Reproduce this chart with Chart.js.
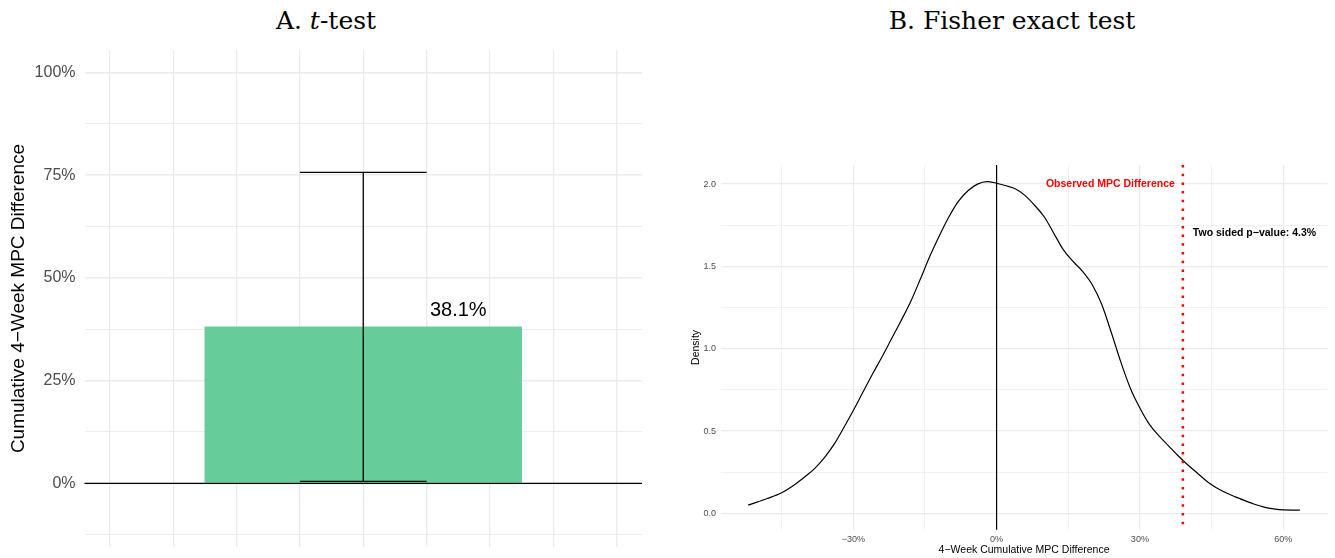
<!DOCTYPE html>
<html>
<head>
<meta charset="utf-8">
<script src="https://cdn.jsdelivr.net/npm/chart.js@4"></script>
<style>
html,body{margin:0;padding:0;background:#fff;width:1335px;height:558px;overflow:hidden;}
.panel{position:absolute;}
.title{position:absolute;font-family:"DejaVu Serif",serif;font-size:25px;line-height:25px;color:#000;white-space:nowrap;transform:translateX(-50%);}
</style>
</head>
<body>
<div class="title" style="left:326px;top:8px">A. <i>t</i>-test</div>
<div class="title" style="left:1012px;top:8px">B. Fisher exact test</div>
<div class="panel" style="left:0;top:40px;width:660px;height:518px"><canvas id="cA"></canvas></div>
<div class="panel" style="left:680px;top:140px;width:655px;height:418px"><canvas id="cB"></canvas></div>
<script>
// ---------- Panel A: t-test ----------
const barCategoryX = [1];
const barValues = [38.1];
const ciLower = [0.5];
const ciUpper = [75.7];
const barLabels = ['38.1%'];
const aYTicks = [-12.5, 0, 12.5, 25, 37.5, 50, 62.5, 75, 87.5, 100];
const aYTickLabels = ['', '0%', '', '25%', '', '50%', '', '75%', '', '100%'];
const aXGrid = [0, 0.25, 0.5, 0.75, 1, 1.25, 1.5, 1.75, 2];
const aYTitle = 'Cumulative 4\u2212Week MPC Difference';

// ---------- Panel B: Fisher exact test ----------
const densityX = [-52, -50, -48, -45, -42, -40, -38, -36, -34, -32, -30, -28, -26, -24, -22, -20, -18, -16, -14, -12, -10, -8, -6, -4, -2, 0,
  2, 4, 6, 8, 10, 12, 14, 16, 18, 20, 22, 24, 26, 28, 30, 32, 34, 36, 38, 40, 42, 44, 46, 48, 50, 52, 54, 56, 58, 60, 63.5];
const densityY = [0.05, 0.07, 0.09, 0.125, 0.18, 0.225, 0.275, 0.34, 0.42, 0.52, 0.625, 0.735, 0.845, 0.95, 1.06, 1.17, 1.285, 1.42, 1.56, 1.685, 1.8, 1.895, 1.96, 2.0, 2.015, 2.005,
  1.99, 1.97, 1.93, 1.87, 1.8, 1.7, 1.6, 1.53, 1.47, 1.39, 1.27, 1.1, 0.92, 0.76, 0.64, 0.54, 0.47, 0.41, 0.35, 0.295, 0.245, 0.195, 0.155, 0.125, 0.1, 0.077, 0.055, 0.038, 0.027, 0.021, 0.02];
const observedDiff = 39.0;
const observedLabel = 'Observed MPC Difference';
const observedLabelY = 2.0;
const pValueText = 'Two sided p\u2212value: 4.3%';
const pValueLabelY = 1.7;
const bXTicks = [-45, -30, -15, 0, 15, 30, 45, 60];
const bXTickLabels = ['', '\u221230%', '', '0%', '', '30%', '', '60%'];
const bYTicks = [0, 0.25, 0.5, 0.75, 1, 1.25, 1.5, 1.75, 2];
const bYTickLabels = ['0.0', '', '0.5', '', '1.0', '', '1.5', '', '2.0'];
const bXTitle = '4\u2212Week Cumulative MPC Difference';
const bYTitle = 'Density';

// ---------- styles ----------
const SANS = '"Liberation Sans", Arial, sans-serif';
Chart.defaults.font.family = SANS;
const barWidth = 1.25;     // in x-units
const capHalf = 0.25;      // error-bar cap half width
const labelDx = 0.375;     // label offset from bar centre (x-units)
const labelDyPx = 16;      // label offset above bar top (px)
const GRID = '#ebebeb';

function setTicks(values) {
  return function (s) { s.ticks = values.map(v => ({ value: v })); };
}
function fixWidth(w) {
  return function (s) { s.width = w; s.paddingTop = 0; s.paddingBottom = 0; };
}
function fixHeight(h) {
  return function (s) { s.height = h; s.paddingLeft = 0; s.paddingRight = 0; };
}

const panelAOverlay = {
  id: 'panelAOverlay',
  afterLayout(chart) {
    const x = chart.scales.x;
    const w = x.getPixelForValue(barCategoryX[0] + barWidth / 2) - x.getPixelForValue(barCategoryX[0] - barWidth / 2);
    chart.data.datasets.forEach(ds => { if (ds.type === 'bar') ds.barThickness = w; });
  },
  afterDatasetsDraw(chart) {
    const { ctx, chartArea, scales: { x, y } } = chart;
    ctx.save();
    const y0 = y.getPixelForValue(0);
    ctx.strokeStyle = '#000';
    ctx.lineWidth = 1.3;
    ctx.beginPath();
    ctx.moveTo(chartArea.left, y0);
    ctx.lineTo(chartArea.right, y0);
    ctx.stroke();
    ctx.font = '20px ' + SANS;
    ctx.fillStyle = '#000';
    ctx.textAlign = 'center';
    ctx.textBaseline = 'middle';
    barCategoryX.forEach((bx, i) => {
      ctx.fillText(barLabels[i], x.getPixelForValue(bx + labelDx), y.getPixelForValue(barValues[i]) - labelDyPx);
    });
    ctx.restore();
  }
};

const errStyle = { type: 'line', borderColor: '#000', borderWidth: 1.3, pointRadius: 0, fill: false, order: 1 };

new Chart(document.getElementById('cA'), {
  type: 'bar',
  data: {
    datasets: [
      Object.assign({ data: barCategoryX.flatMap((bx, i) => [{ x: bx, y: ciLower[i] }, { x: bx, y: ciUpper[i] }]) }, errStyle),
      Object.assign({ data: barCategoryX.flatMap((bx, i) => [{ x: bx - capHalf, y: ciUpper[i] }, { x: bx + capHalf, y: ciUpper[i] }]) }, errStyle),
      Object.assign({ data: barCategoryX.flatMap((bx, i) => [{ x: bx - capHalf, y: ciLower[i] }, { x: bx + capHalf, y: ciLower[i] }]) }, errStyle),
      { type: 'bar', data: barCategoryX.map((bx, i) => ({ x: bx, y: barValues[i] })), backgroundColor: '#66cc99', borderWidth: 0, order: 2 }
    ]
  },
  options: {
    responsive: true,
    maintainAspectRatio: false,
    animation: false,
    devicePixelRatio: 1,
    layout: { padding: { left: 0, right: 18, top: 10, bottom: 0 } },
    plugins: { legend: { display: false }, tooltip: { enabled: false } },
    scales: {
      x: {
        type: 'linear', min: -0.1, max: 2.1, offset: false,
        afterBuildTicks: setTicks(aXGrid),
        afterFit: fixHeight(11),
        grid: { offset: false, drawTicks: false, color: GRID, lineWidth: 1.3 },
        border: { display: false },
        ticks: { display: false }
      },
      y: {
        type: 'linear', min: -15.5, max: 105.5,
        afterBuildTicks: setTicks(aYTicks),
        afterFit: fixWidth(84.5),
        grid: {
          drawTicks: false, color: GRID,
          lineWidth: c => (c.tick && c.tick.value % 25 === 0) ? 1.6 : 0.9
        },
        border: { display: false },
        ticks: { padding: 9, color: '#4d4d4d', font: { size: 16 }, callback: (v, i) => aYTickLabels[i] },
        title: { display: true, text: aYTitle, color: '#000', font: { size: 19 }, padding: { top: 7, bottom: 0 } }
      }
    }
  },
  plugins: [panelAOverlay]
});

const panelBOverlay = {
  id: 'panelBOverlay',
  afterDatasetsDraw(chart) {
    const { ctx, chartArea: { top, bottom }, scales: { x, y } } = chart;
    ctx.save();
    const x0 = x.getPixelForValue(0);
    ctx.strokeStyle = '#000';
    ctx.lineWidth = 1.2;
    ctx.beginPath();
    ctx.moveTo(x0, top);
    ctx.lineTo(x0, bottom);
    ctx.stroke();
    const xo = x.getPixelForValue(observedDiff);
    ctx.strokeStyle = '#ff0000';
    ctx.lineWidth = 2.5;
    ctx.setLineDash([2.5, 6.2]);
    ctx.beginPath();
    ctx.moveTo(xo, top);
    ctx.lineTo(xo, bottom);
    ctx.stroke();
    ctx.setLineDash([]);
    ctx.font = 'bold 10.5px ' + SANS;
    ctx.textBaseline = 'middle';
    ctx.fillStyle = '#ff0000';
    ctx.textAlign = 'right';
    ctx.fillText(observedLabel, xo - 8, y.getPixelForValue(observedLabelY));
    ctx.fillStyle = '#000';
    ctx.textAlign = 'left';
    ctx.fillText(pValueText, xo + 10, y.getPixelForValue(pValueLabelY));
    ctx.restore();
  }
};

new Chart(document.getElementById('cB'), {
  type: 'line',
  data: {
    datasets: [{
      data: densityX.map((v, i) => ({ x: v, y: densityY[i] })),
      borderColor: '#000', borderWidth: 1.2, pointRadius: 0, fill: false,
      cubicInterpolationMode: 'monotone'
    }]
  },
  options: {
    responsive: true,
    maintainAspectRatio: false,
    animation: false,
    devicePixelRatio: 1,
    layout: { padding: { left: 0, right: 7.4, top: 25, bottom: 0 } },
    plugins: { legend: { display: false }, tooltip: { enabled: false } },
    scales: {
      x: {
        type: 'linear', min: -57.8, max: 69.3,
        afterBuildTicks: setTicks(bXTicks),
        afterFit: fixHeight(28.2),
        grid: { drawTicks: false, color: GRID, lineWidth: c => (c.tick && c.tick.value % 30 === 0) ? 1.2 : 0.7 },
        border: { display: false },
        ticks: { padding: 4, color: '#4d4d4d', font: { size: 9 }, maxRotation: 0, autoSkip: false, callback: (v, i) => bXTickLabels[i] },
        title: { display: true, text: bXTitle, color: '#000', font: { size: 10.5 }, padding: { top: 0, bottom: 1.7 } }
      },
      y: {
        type: 'linear', min: -0.1, max: 2.116,
        afterBuildTicks: setTicks(bYTicks),
        afterFit: fixWidth(40.5),
        grid: { drawTicks: false, color: GRID, lineWidth: c => (c.tick && Math.abs(c.tick.value * 2 - Math.round(c.tick.value * 2)) < 1e-9) ? 1.2 : 0.7 },
        border: { display: false },
        ticks: { padding: 4.5, color: '#4d4d4d', font: { size: 9 }, autoSkip: false, callback: (v, i) => bYTickLabels[i] },
        title: { display: true, text: bYTitle, color: '#000', font: { size: 10.5 }, padding: { top: 9.7, bottom: 0 } }
      }
    }
  },
  plugins: [panelBOverlay]
});
</script>
</body>
</html>
